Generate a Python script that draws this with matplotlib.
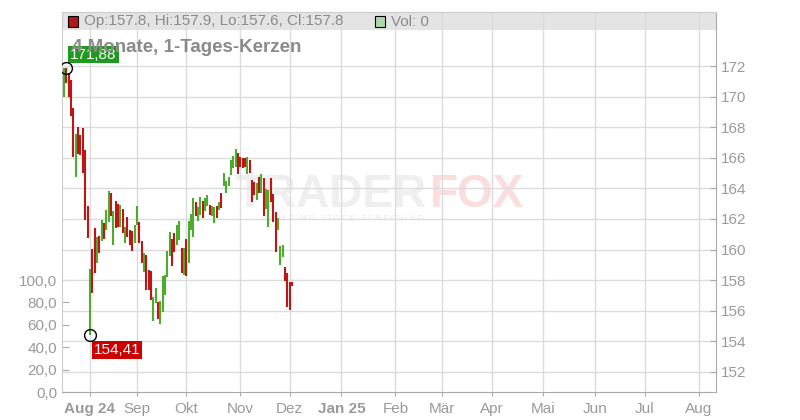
import numpy as np
import pandas as pd
import matplotlib
matplotlib.use("Agg")
import matplotlib.pyplot as plt

plt.rcParams['font.family'] = ['Liberation Sans', 'DejaVu Sans']

# ---------------- data ----------------
start_date = "2024-07-19"
end_date = "2024-12-03"

highs = [171.85, 171.88, 171.56, 171.08, 169.24, 167.56, 168.00, 167.49, 167.93, 166.50,
         162.85, 158.71, 160.02, 161.41, 160.84, 160.89, 161.93, 161.72, 162.59, 163.83,
         163.68, 162.52, 163.18, 162.98, 162.92, 162.65, 161.50, 162.15, 161.28, 161.22,
         161.60, 162.85, 161.82, 160.56, 159.80, 159.65, 158.67, 158.60, 156.92, 157.51,
         156.55, 156.64, 158.27, 158.33, 159.90, 161.15, 160.69, 161.10, 161.60, 161.87,
         160.12, 160.08, 160.69, 161.87, 162.33, 163.35, 163.09, 162.80, 163.46, 163.18,
         163.35, 163.57, 162.92, 162.87, 162.80, 162.87, 163.13, 163.68, 165.03, 164.48,
         164.76, 165.86, 166.14, 166.56, 166.30, 166.03, 165.97, 165.97, 166.08, 165.86,
         164.55, 164.44, 164.33, 164.76, 164.92, 164.70, 163.94, 163.90, 164.66, 163.63,
         162.48, 162.05, 160.24, 160.30, 158.88, 158.49, 157.90, 157.90]
lows = [169.95, 170.87, 170.00, 168.73, 166.07, 164.77, 166.25, 166.18, 165.03, 161.93,
        160.74, 154.41, 157.18, 158.47, 159.14, 159.78, 160.58, 160.67, 161.28, 161.82,
        162.20, 160.30, 161.43, 161.50, 161.46, 161.10, 160.45, 160.80, 160.30, 159.93,
        160.41, 161.60, 160.41, 159.14, 158.56, 157.36, 157.36, 156.70, 155.35, 156.49,
        155.46, 155.12, 155.94, 157.03, 158.23, 159.58, 158.93, 159.86, 160.30, 160.63,
        158.49, 158.34, 158.27, 159.14, 161.28, 160.80, 162.20, 161.87, 162.26, 162.09,
        162.52, 162.87, 162.26, 162.20, 161.76, 162.09, 162.59, 162.70, 164.16, 163.72,
        164.16, 164.88, 165.31, 165.42, 164.93, 165.38, 165.31, 165.42, 164.93, 164.99,
        163.13, 163.57, 163.24, 163.68, 163.72, 162.20, 162.63, 161.46, 163.13, 161.82,
        159.86, 161.28, 158.99, 159.50, 157.97, 156.27, 156.05, 157.60]
# 1 = rising candle (green), 0 = falling candle (red)
rising = [1, 0, 0, 0, 0, 1, 0, 0, 0, 0,
          0, 1, 0, 0, 1, 0, 1, 0, 1, 1,
          0, 1, 0, 0, 1, 0, 1, 0, 0, 0,
          1, 1, 0, 0, 1, 0, 0, 0, 1, 1,
          0, 1, 1, 1, 1, 1, 0, 0, 1, 1,
          0, 1, 0, 1, 1, 1, 0, 1, 1, 0,
          1, 1, 0, 1, 1, 0, 1, 0, 1, 1,
          1, 1, 1, 1, 0, 0, 0, 0, 1, 0,
          0, 0, 1, 0, 1, 0, 1, 1, 0, 0,
          0, 1, 1, 1, 0, 0, 0, 0]
last_open = 157.8
last_close = 157.8
last_volume = 0

tick_dates = ["2024-08-05", "2024-09-02", "2024-10-01", "2024-11-01", "2024-12-02",
              "2025-01-01", "2025-02-03", "2025-03-03", "2025-04-01", "2025-05-01",
              "2025-06-02", "2025-07-01", "2025-08-01"]
tick_labels = ["Aug 24", "Sep", "Okt", "Nov", "Dez", "Jan 25", "Feb", "Mär", "Apr",
               "Mai", "Jun", "Jul", "Aug"]
bold_labels = ["Aug 24", "Jan 25"]

price_ticks = [152, 154, 156, 158, 160, 162, 164, 166, 168, 170, 172]
vol_ticks = [0, 20, 40, 60, 80, 100]

# ---------------- styles ----------------
GREEN = "#4cad2c"
RED = "#bf1515"
GRID = "#dcdcdc"
LABEL = "#9a9a9a"

W, H = 800, 420
fig = plt.figure(figsize=(8, 4.2), dpi=100)
fig.patch.set_facecolor("white")
ax = fig.add_axes([62 / W, 28 / H, 654 / W, 380 / H])
axv = ax.twinx()

dates = pd.bdate_range(start_date, end_date)
x0 = np.datetime64(start_date)
xs = np.busday_count(x0, dates.values.astype("datetime64[D]"))
tick_x = np.busday_count(x0, np.array(tick_dates, dtype="datetime64[D]"))

cols = [GREEN if r else RED for r in rising]
ax.vlines(xs, lows, highs, colors=cols, linewidth=1.5, zorder=3)

ax.set_xlim(-0.85, 277.4)
ax.set_ylim(150.69, 175.53)

# header band
ax.axhspan(174.35, 175.53, facecolor="#e4e4e4", edgecolor="none", zorder=0.1)

ax.set_axisbelow(True)
ax.grid(True, color=GRID, linewidth=1.0)
ax.yaxis.set_ticks_position("right")
ax.yaxis.set_label_position("right")
ax.set_yticks(price_ticks)
ax.set_yticklabels([str(v) for v in price_ticks])
ax.set_xticks(tick_x)
ax.set_xticklabels(tick_labels)
for t in ax.get_xticklabels():
    if t.get_text() in bold_labels:
        t.set_fontweight("bold")
ax.tick_params(axis="y", direction="in", length=4, color="#aaaaaa", labelsize=11,
               labelcolor=LABEL, pad=3.5, right=True, left=False,
               labelright=True, labelleft=False)
ax.tick_params(axis="x", direction="out", length=3, color="#aaaaaa", labelsize=11,
               labelcolor=LABEL, pad=4)
for side in ["right", "bottom"]:
    ax.spines[side].set_color("#aaaaaa")
for side in ["left", "top"]:
    ax.spines[side].set_color("#cccccc")

# volume axis (left)
axv.set_ylim(0, 339.3)
axv.yaxis.set_ticks_position("left")
axv.set_yticks(vol_ticks)
axv.set_yticklabels([f"{v:.1f}".replace(".", ",") for v in vol_ticks])
axv.tick_params(axis="y", direction="in", length=5, color="#aaaaaa", labelsize=11,
                labelcolor=LABEL, pad=3.5, left=True, right=False,
                labelleft=True, labelright=False)
for s in axv.spines.values():
    s.set_visible(False)

# high / low markers
i_hi = int(np.argmax(highs))
i_lo = int(np.argmin(lows))
ax.plot([xs[i_hi]], [highs[i_hi]], "o", ms=8.5, mfc="none", mec="black", mew=1.0, zorder=6)
ax.plot([xs[i_lo]], [lows[i_lo]], "o", ms=8.5, mfc="none", mec="black", mew=1.0, zorder=6)
ax.annotate(f"{highs[i_hi]:.2f}".replace(".", ","), xy=(xs[i_hi], highs[i_hi]),
            xytext=(19.5, 9.5), textcoords="offset points", ha="center", va="center",
            color="white", fontsize=11, zorder=5,
            bbox=dict(boxstyle="square,pad=0.12", fc="#1f9a1f", ec="none"))
ax.annotate(f"{lows[i_lo]:.2f}".replace(".", ","), xy=(xs[i_lo], lows[i_lo]),
            xytext=(19.5, -10.5), textcoords="offset points", ha="center", va="center",
            color="white", fontsize=11, zorder=5,
            bbox=dict(boxstyle="square,pad=0.12", fc="#cc0000", ec="none"))

# title (on top of label)
fig.text(72 / W, 1 - 47 / H, "4 Monate, 1-Tages-Kerzen", fontsize=13.5, fontweight="bold",
         color="#8a8a8a", ha="left", va="center", zorder=10)

# header legend
fig.patches.append(plt.Rectangle((68 / W, 1 - 26.5 / H), 10 / W, 10 / H, transform=fig.transFigure,
                                 facecolor="#b01818", edgecolor="black", linewidth=0.8))
fig.text(84 / W, 1 - 21.5 / H,
         f"Op:{last_open}, Hi:{highs[-1]}, Lo:{lows[-1]}, Cl:{last_close}",
         fontsize=11, color="#8a8a8a", ha="left", va="center")
fig.patches.append(plt.Rectangle((375 / W, 1 - 26.5 / H), 10 / W, 10 / H, transform=fig.transFigure,
                                 facecolor="#acd8ac", edgecolor="black", linewidth=0.8))
fig.text(391 / W, 1 - 21.5 / H, f"Vol: {last_volume}", fontsize=11, color="#8a8a8a",
         ha="left", va="center")

# watermark
fig.text(236 / W, 1 - 195 / H, "TRADER", fontsize=33, fontweight="bold", color="#efefef",
         ha="left", va="center", zorder=0)
fig.text(430 / W, 1 - 195 / H, "FOX", fontsize=33, fontweight="bold", color="#fadede",
         ha="left", va="center", zorder=0)
fig.text(262 / W, 1 - 218 / H, "R E A L T I M E   S T O C K   S C R E E N I N G", fontsize=5.5,
         color="#e8e8e8", ha="left", va="center", zorder=0)
ax.set_zorder(1)
ax.patch.set_alpha(0)

fig.savefig("out.png", dpi=100)
